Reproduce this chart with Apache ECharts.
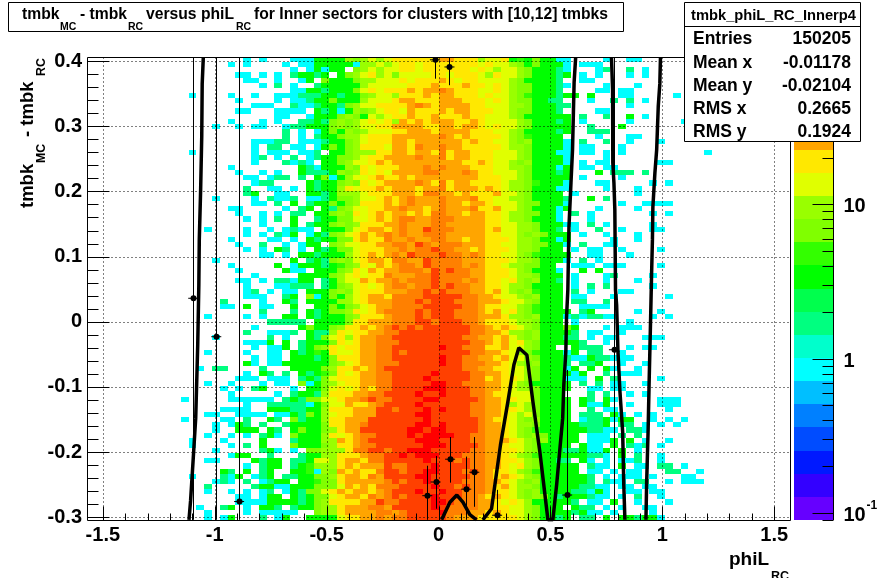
<!DOCTYPE html>
<html><head><meta charset="utf-8">
<style>html,body{margin:0;padding:0;background:#fff}#c{width:878px;height:578px}</style>
<script src="https://cdn.jsdelivr.net/npm/echarts@6/dist/echarts.min.js"></script>
</head><body><div id="c"></div>
<script>
// colour-level letters per cell: 6 cyan(1 count) .. j red; '.' = empty
const rowsLeft = [ // bins 8..45, top row first
"............ 6.6...666a aaadcdedef fffffg","..........6. 6....6.66a aaaa6ddede ffefff","............ ......6.6a 6aa.cdedee ffefff","...........6 6.6.6.8aa8 a.acdefdec eeeeff","............ 66..6..6a. caaacddeee fefffg","............ ..6.8.6..8 aaaaadeeee efffgf","............ ......66aa 8aaacefeff fgfggh",".....6....6. .6..666888 aa8aacdeed fffgfg","...........6 ....6.668a acaaadeeef ggfffg","............ .666..8668 aa8cdeefff fghgfg",
"...........6 6...6666.a 8a6adcdeff egfffg","............ ....66..6a aacdcaedef fgffgf","..........6. ..6.6..88a 8cdcdefefd gfgfgg","........6..6 .66..688aa acdcdeeffg gggffg","............ .....8.6.6 acadcdeeef fgggfg","............ .....8.6.8 aacddefffg gggggh","............ .66688.666 8aacdefffg gfgggg","............ .6.88.66.6 acacdfffeg gfhggh",".....6...... .6.666.668 .aacdddffg gfggfh","............ .68.6.8.68 aaccdeffgg gghggh",
"............ .6...8686. aacdeefgfg gggggg","..........6. .......a86 aaadcfefff ggghgh","...........6 ..6.6..a88 8adcdfefeg ggghhg","............ 66.688.8.a c6adeefgff gfgggg","............ .688....a8 aacdcfefgg gghgfh","............ 8..66.6.a8 aadfeffgfg ggfggh","............ 8a..66..aa 8adddefffg ggfhhg","........6... .6.8668.66 8accdeefgf ghgggh","............ .66.8.a.8a acacdfffgf ghgggh","..........66 .....6.8a. a8cdeeffgg hggfgh",
"...........6 ..6.6.88.a acdcfefgfg gfgfhh","............ 6.6.8.a..8 aacceefgfg hhgghh","............ ..6...a.8a acdcdfffgg hggghh",".......6.... 6..6.6866. aaacefggfg hggihh","............ 6.6.86a.6a 8cdefgfghg hgghhh","..........6. ...66.6.a8 aaccfgffhg ghgghh","...........6 ..8..6.6aa .cdeeffggh hgihgh","............ 6.6.a8.6.a 8accefffgg hghhih","............ ..66.6.aa8 aaadefgfgh gihhhi","........6... ......a.8a 8cdcefggfh hggihh",
"..........6. ....a.6aaa 8abcdfegfg hhgihh","...........6 .....a66.a aacdfegfgg hhhgih","............ .6.....aaa acdefeffhg gghhih","...........6 6.6.886aa. 8adeegfggh ghhhih","............ 6...66888. 8acdefefgh hghhih","............ 68.6.66.aa acdcefffgg ghhihi","............ 666..8a.d6 acadefggfh hhhiii",".........8.. ..6..a8.aa aaddefgggh hhihii",".........66. a.66..a..a acacdefggh hhhiii","............ ..8...8.a8 accdfefghh hhihii",
".......6.... 6.6..aa.a8 aaacdfffgh hhihii","............ ...88888.a aaacffgggh hhiihi","............ .6.....aca acdffgfghi hihiii","............ 8..6668.a8 8dfeffgghh iiiiii","........6... ...8.6..a8 cefdfgghhi iiiiii","............ 666a.a.8aa acfefgghhh iiiiii","............ .6.66a.8ac dfeffgghhi iiiiij",".......6.... 6..66.a8ab afeefgghhi hiiiii","............ .6.66.aaa8 acfffgghhi iiiiij","............ a6.66aaaaa acdefgghhh iiiiij",
"......6.88.. ..8...aaaa cdffgfghii iiiiii","............ 6.a8.8.a8a bcfefgghhi iiiiji","...........6 66.666.8a8 cefffgghhi iiijii",".......6..6. ..6.66.c6a cdeffgghhi iiiijj",".........6.6 .8a...6.aa cefefgfhhi iiijjj","..........6. ....6.8aa8 dfffgghhii iijiij","....6.....66 6666.8a8cc eefgghihhi iiijji","............ 6..888886a ceegffghii iijiii",".........666 6..aaa88aa dfffgggiih iiijij",".......66..6 666.66a8ca deffgggiii iijjii",
"....6....66. 8..a8.c8aa dffgggiiii iiijii","........6.6a 8.8..8aaaa cffgghiiii iijjij","........6..a aa.a8.acaa cdfggiiiii ijjijj",".......6..6. 6.8a6.caaa dfefghhiii ijijjj",".....6...6.. ..a...8aaa ddgfghiiii iijjji",".....6....6. 8.a...caaa cdffghhiii iiijjj","........6... ..8a6.6.cc dddfhhiihi ijjjii","..........6a a..8...8aa ddfffghhii jijjji",".......66... .a8aa.88ae edfggfhhii iiijii","............ 6.8aa.8abd ddfgfgggih hiiiji",
".........a8. a.8a..aab6 dcgfgffhii hiijji",".....6...86a .68a.88aac cdfggfhgii iijjii","........686. 8.68aa.aab ccfggggghi hiijii",".......8.... .8aa66aaac ccegfgfhhh iiiiji",".......6..6. 6.68.6a8cc efgfggfghi iijiij","...........6 6.6aa.a8ac cefggfhghi hiiiji","...........6 666aaaa8ac dffffggihh iiiijj","......6..8a. 6.aa8.8aac ddfggghhgi iiiiji",".......6.... 6.66666..c ddfgggghhg hiiiij",".......6.6a. ..8.6a..aa aaeffgghgh hiiiii"];
const rowsRight = [ // bins 46.., top row first
"gfff deefabacaa 66....6..6 6","ffff efeedcacaa a6.666....","fffe fedeedcaaa 86...68..8 .6","efff edfeedcaaa 8a.6.6...6 .6","feff eeeedcaaaa 8..66.....","ffgf fefedccaaa 86....6... 6","gfff eefedccaaa 8....66.66","gfff efeedcbaaa 8aa.a...66 .....6","ggff fefedccaa8 8...6..8.8 .6","gggf feeeddcaaa 88.......6",
"fggf ffeedccaaa 8....66...","ffgf feeedcaaaa aa.8..8..a .6","gffg feeeedcaaa 8a.6.....6 ......6","gfgg fefeedcaaa aa..8...a.","gggf ffeedcaaaa 8a..888...","gfgf fffedcbaaa a....6...6 6","ggfg ffeedcdaaa a6.8..8..6 ...6","ggff fffeddcaaa a6.66...6.","fggf ffeeedcaaa 66.66.6.6. .........6","fggf ffeeedcaaa a6....6...",
"ggff gfeedcdaaa a6.6.66... ...66","gggf ffeeddcaaa 6a.66.66..","gghg ffeeedcaaa 8a...a.888 .8","gggg fffeedcaaa aa.6....6.","fggf fffeddcbaa a6...66... ..6.6","fggg fgfeddcaaa 66....6... 6","gfgf ffgeedcaaa a.6....... 6","gggh ffeeddcaaa a8..a.8...","ggfg gfeeedccaa a6......6. .6666","gggh ffgeedcaaa 6a...6.... 6",
"ggfg gffeddccaa 6.8.6..... ..6.6","hggg gffeddcaaa 6...6.....","gggg gffeeddcaa a66.8.6... ..6","hggg gfgeeddcaa 8.6..8..6. ..66","gggg gffeedcdca aa.6..6... 6","ggfg gfffeddcaa 6a.....6.. 6","hhgg gffeeddcca a6.8..66..","hggf gfffeddcaa a.6.66..6. ...6","hhgh gffeedcbaa aa..66...6","hhgg gfffeddcaa a6.8.6....",
"hhgh gffeddccaa ..666.666. ...6","ihhg gfffedcaaa 6..a.a....","hhhg gfffeddcaa a.6...68.. ..6","hhgh gffefdcdaa 8.6...6... 6","ihhg gffeddcaaa a.6.8.8... ..6","hhhg gfgedcdbaa a.8.6...66","iihh gggfeedcdaa a.66...6.. ....6".replace("gggfeedcdaa","ggfeedcdaa"),"ihhh gggfeedcaa a.88..8...","iihh gffeedcbaa a..6666...","ihhh gfgefdcbaa aa.8a..... 6..6",
"ihhh gggfddcdaa a6868866.. ..6.6","iihh gfffeddcaa a.6......6","iiih hgfgfedcaa aca...6.66 6","iiih hggfddcdaa aa8.66..6.","iihh ggfgedcdaa a88.6.66.. .666","iiih hgfgefdcaa aaa8..6...","iihh hffgeedcaa ..a888...6 .66","iiih hggfedcbaa a6a.88..6.","iihh ggfgeedcaa a866a88666","iihh hggfedcdaa a8.88a..6. .6",
"iihh ggffeedcaa a6a.a.a6.. 6","iiih hggfeedcaa aa6a..8.66 6","iiih hfgffedcaa a666.a.8.. ...6","iihh hggfedcaaa aa.8.8.66. .6","iiih hggfeddcaa aa..66.66.","iiih hgffeeecaa a...8.8..6 .6","iiii hggffeecaa aa.a8.a6.. ...666","iiih hggfdedcaa aa.a66a..6 ...666","iiih hggffedcaa aa..8.66.. ....6","iiih hggfedecaa aa.888.a6. 6.6",
"iiii hgffedcdaa aa.688a6aa ..6.6.6","iiii hggfeddcaa aaa888a.88 .6.6.6","iiii hggfedcbaa aaaa8866.8 86","jiih hggfedcdca aaa.666.8. 8","iiih hgggfedcda aaa.666a.a .6..6","iiii hggfeedcaa aa.a66.a.8 68.6","iiih hggffedcaa a88a66a.a. 6","iihh hggfedcbaa aaaa886.a. 8..6","ihih hggffedcaa 88.a6.6.66 8..6","iiih hggfefdcaa aaa.866.a. 66.88.6",
"iihi hgffedcbaa aaa.66.6.6 6...88..6.","iiih hgfgfedcaa aaaa8.6.66 6.6...66","iihh hggfedcdaa aaaa8.866. 88..6.666","ihih hgfgeddcaa aaa8866.66 .66","iihh hgffedcdaa aa886a6..6 6.66","iihh gfgfedcdca 8aaa866.6. 8..6","ihhh ggfefedaaa aa8.66.a.. 6...6","hhhh ggffeedcaa a.a88.6.6. .66","hhhg gfgfeedcaa aa8a66.6.. ..6","hggg fffffedcaa 8a.88.a.aa 8aa6"];

const xRange = [-1.5708, 1.5708];
const yRange = [-0.3043, 0.4063];
const binCount = 90, firstLeftBin = 8, firstRightBin = 46;
const palette = ['#6600ff','#3300ff','#0019ff','#004cff','#0080ff','#00bfff','#00ffff','#00ffcc','#00ff80','#00ff4d','#00ff00','#33ff00','#80ff00','#99ff00','#e0ff00','#ffe800','#ffa500','#ff8000','#ff4000','#ff0000'];
const zRange = [0.09, 90];
const xMajor = [-1.5,-1,-0.5,0,0.5,1,1.5];
const yMajor = [-0.3,-0.2,-0.1,0,0.1,0.2,0.3,0.4];
const zMajor = [0.1,1,10];
const zMinor = [0.09,0.2,0.3,0.4,0.5,0.6,0.7,0.8,0.9,2,3,4,5,6,7,8,9,20,30,40,50,60,70,80,90];

const curveFarLeft = [[-1.115,-0.304],[-1.108,-0.275],[-1.097,-0.215],[-1.085,-0.148],[-1.076,-0.036],[-1.071,0.057],[-1.069,0.126],[-1.063,0.202],[-1.058,0.285],[-1.056,0.365],[-1.051,0.406]];
const curvePeakA = [[0.014,-0.304],[0.051,-0.277],[0.082,-0.266],[0.109,-0.277],[0.140,-0.296],[0.170,-0.304]];
const curvePeakB = [[0.198,-0.304],[0.237,-0.287],[0.277,-0.189],[0.310,-0.123],[0.337,-0.066],[0.359,-0.040],[0.395,-0.051],[0.422,-0.123],[0.453,-0.200],[0.489,-0.304],[0.511,-0.304],[0.528,-0.250],[0.555,-0.148],[0.560,-0.097],[0.569,-0.046],[0.572,0.006],[0.578,0.049],[0.583,0.146],[0.592,0.213],[0.599,0.264],[0.606,0.367],[0.613,0.406]];
const curveRightA = [[0.773,0.406],[0.778,0.356],[0.779,0.244],[0.784,0.213],[0.788,0.172],[0.791,0.049],[0.796,0.026],[0.802,-0.046],[0.811,-0.108],[0.823,-0.169],[0.828,-0.250],[0.833,-0.304]];
const curveRightB = [[0.992,0.406],[0.989,0.365],[0.982,0.330],[0.975,0.264],[0.967,0.228],[0.958,0.176],[0.956,0.126],[0.952,0.069],[0.948,0.006],[0.941,-0.097],[0.937,-0.163],[0.930,-0.250],[0.927,-0.304]];
// x, y, yLow, yHigh
const profilePoints = [[-1.096,0.036,-0.304,0.406],[-0.993,-0.023,-0.304,0.406],[-0.891,-0.276,-0.304,0.406],[0.784,-0.043,-0.304,0.406],[0.575,-0.266,-0.304,-0.074],[0.262,-0.297,-0.304,-0.258],[-0.050,-0.267,-0.304,-0.221],[-0.013,-0.246,-0.287,-0.206],[0.052,-0.211,-0.247,-0.177],[0.124,-0.257,-0.304,-0.207],[0.160,-0.231,-0.284,-0.177],[-0.016,0.402,0.373,0.406],[0.049,0.391,0.363,0.406]];
const statLabels = ['Entries','Mean x','Mean y','RMS x','RMS y'];
const statValues = ['150205','-0.01178','-0.02104','0.2665','0.1924'];

const binW = (xRange[1]-xRange[0])/binCount, binH = (yRange[1]-yRange[0])/binCount;
const cells = [];
function addCells(str, first, r){
  for(let i=0;i<str.length;i++){
    const ch=str[i]; if(ch==='.') continue;
    const level=parseInt(ch,20);
    cells.push([xRange[0]+(first+i+0.5)*binW, yRange[1]-(r+0.5)*binH, level]);
  }
}
rowsLeft.forEach((s,r)=>addCells(s.replace(/ /g,'').padStart(38,'.').slice(-38),firstLeftBin,r));
rowsRight.forEach((s,r)=>addCells(s.replace(/ /g,''),firstRightBin,r));
const levelEdges = palette.map((c,i)=>[zRange[0]*Math.pow(zRange[1]/zRange[0],i/20), zRange[0]*Math.pow(zRange[1]/zRange[0],(i+1)/20), i]);

const FONT='"Liberation Sans", Arial, sans-serif';
const ln=(x1,y1,x2,y2,extra)=>({type:'line',shape:{x1,y1,x2,y2},style:Object.assign({stroke:'#000',lineWidth:1},extra||{})});
const snap=v=>Math.round(v)+0.5;

const chart=echarts.init(document.getElementById('c'),null,{renderer:'canvas'});
function txt(x,y,s,size,opts){return Object.assign({type:'text',x,y,z:100,style:{text:s,font:'bold '+size+'px '+FONT,fill:'#000',textAlign:(opts&&opts.align)||'left',textVerticalAlign:'middle'}},opts&&opts.rotation?{rotation:opts.rotation}:{});}
const graphics=[
 {type:'rect',z:99,shape:{x:8.5,y:2.5,width:615,height:29},style:{fill:'#fff',stroke:'#000',lineWidth:1}},
 txt(22,14.5,'tmbk',15.7),txt(60,27,'MC',10.5),txt(80,14.5,'- tmbk',15.7),txt(128,27,'RC',10.5),txt(146,14.5,'versus phiL',15.7),txt(236,27,'RC',10.5),txt(254,14.5,'for Inner sectors for clusters with [10,12] tmbks',15.7),
 {type:'rect',z:99,shape:{x:684.5,y:2.5,width:176,height:139},style:{fill:'#fff',stroke:'#000',lineWidth:1}},
 {type:'line',z:100,shape:{x1:684.5,y1:26.5,x2:860.5,y2:26.5},style:{stroke:'#000',lineWidth:1}},
 txt(773.5,15.5,'tmbk_phiL_RC_Innerp4',14.7,{align:'center'}),
 txt(729,560,'phiL',19),txt(771,577,'RC',12.5),
 txt(28,208,'tmbk',18.5,{rotation:Math.PI/2}),txt(42,163,'MC',12.3,{rotation:Math.PI/2}),txt(28,137,'- tmbk',18.5,{rotation:Math.PI/2}),txt(42,76,'RC',12.3,{rotation:Math.PI/2})
];
[39.5,63,86,109,132.5].forEach((y,i)=>{graphics.push(txt(693,y,statLabels[i],17.5));graphics.push(txt(851,y,statValues[i],17.5,{align:'right'}));});

const minorX=[];for(let i=-15;i<=15;i++){if(i%5!==0)minorX.push(i/10);}
const minorY=[];for(let i=-15;i<=20;i++){if(i%5!==0)minorY.push(i/50);}

chart.setOption({
 animation:false,backgroundColor:'#fff',
 grid:[{left:87,right:88,top:57,bottom:58,containLabel:false},{left:794,width:40,top:57,bottom:58}],
 xAxis:[
  {type:'value',gridIndex:0,min:xRange[0],max:xRange[1],axisLine:{show:false},axisTick:{show:false},splitLine:{show:false},
   axisLabel:{customValues:xMajor,color:'#000',fontFamily:'Liberation Sans',fontWeight:'bold',fontSize:20,margin:5}},
  {type:'value',gridIndex:1,min:0,max:1,show:false}],
 yAxis:[
  {type:'value',gridIndex:0,min:yRange[0],max:yRange[1],axisLine:{show:false},axisTick:{show:false},splitLine:{show:false},
   axisLabel:{customValues:yMajor,color:'#000',fontFamily:'Liberation Sans',fontWeight:'bold',fontSize:20,margin:5}},
  {type:'log',gridIndex:1,logBase:10,min:zRange[0],max:zRange[1],show:false}],
 graphic:{elements:graphics},
 series:[
  {type:'custom',xAxisIndex:0,yAxisIndex:0,z:2,silent:true,progressive:0,data:cells,
   renderItem(p,api){const a=api.coord([api.value(0)-binW/2,api.value(1)+binH/2]),b=api.coord([api.value(0)+binW/2,api.value(1)-binH/2]);
    const x=Math.round(a[0]),y=Math.round(a[1]);
    return{type:'rect',shape:{x,y,width:Math.round(b[0])-x,height:Math.round(b[1])-y},style:{fill:palette[api.value(2)]}};}},
  {type:'custom',xAxisIndex:1,yAxisIndex:1,z:2,silent:true,data:levelEdges,
   renderItem(p,api){const a=api.coord([0,api.value(1)]),b=api.coord([1,api.value(0)]);
    return{type:'rect',shape:{x:a[0],y:Math.round(a[1]),width:b[0]-a[0],height:Math.round(b[1])-Math.round(a[1])},style:{fill:palette[api.value(2)]}};}},
  ...[curveFarLeft,curvePeakA,curvePeakB,curveRightA,curveRightB].map(c=>({type:'line',xAxisIndex:0,yAxisIndex:0,z:4,data:c,showSymbol:false,silent:true,clip:true,lineStyle:{color:'#000',width:3.5},emphasis:{disabled:true}})),
  {type:'custom',xAxisIndex:0,yAxisIndex:0,z:5,silent:true,data:profilePoints,clip:true,
   renderItem(p,api){const c=api.coord([api.value(0),api.value(1)]),lo=api.coord([api.value(0),api.value(2)]),hi=api.coord([api.value(0),api.value(3)]);
    const x=snap(c[0]);
    return{type:'group',children:[ln(x,lo[1],x,hi[1]),ln(c[0]-5,c[1],c[0]+5,c[1]),{type:'circle',shape:{cx:x,cy:c[1],r:3},style:{fill:'#000'}}]};}},
  {type:'custom',xAxisIndex:0,yAxisIndex:0,z:6,silent:true,clip:false,data:[[0,0]],
   renderItem(p,api){
    const L=api.coord([xRange[0],0])[0],R=api.coord([xRange[1],0])[0],T=api.coord([0,yRange[1]])[1],B=api.coord([0,yRange[0]])[1];
    const l=snap(L),r=snap(R),t=snap(T),b=snap(B);const dash={lineDash:[1,3]};const ch=[];
    xMajor.forEach(v=>{const x=snap(api.coord([v,0])[0]);ch.push(ln(x,t,x,b,dash));ch.push(ln(x,b,x,b-14));});
    yMajor.forEach(v=>{const y=snap(api.coord([0,v])[1]);ch.push(ln(l,y,r,y,dash));ch.push(ln(l,y,l+22,y));});
    minorX.forEach(v=>{const x=snap(api.coord([v,0])[0]);ch.push(ln(x,b,x,b-7));});
    minorY.forEach(v=>{const y=snap(api.coord([0,v])[1]);ch.push(ln(l,y,l+11,y));});
    ch.push({type:'rect',shape:{x:l,y:t,width:r-l,height:b-t},style:{fill:'none',stroke:'#000',lineWidth:1}});
    return{type:'group',children:ch};}},
  {type:'custom',xAxisIndex:1,yAxisIndex:1,z:6,silent:true,clip:false,data:[[0,1]],
   renderItem(p,api){
    const X=snap(api.coord([1,1])[0])-1;const ch=[];
    const top=api.coord([1,zRange[1]])[1],bot=api.coord([1,zRange[0]])[1];
    ch.push(ln(X,top,X,bot));
    zMinor.forEach(v=>{const y=snap(api.coord([1,v])[1]);ch.push(ln(X-11,y,X,y));});
    zMajor.forEach(v=>{const y=snap(api.coord([1,v])[1]);ch.push(ln(X-21,y,X,y));
      const f='bold 20px '+FONT;
      if(v===0.1){ch.push({type:'text',style:{x:X+10,y:y+2,text:'10',font:f,fill:'#000',textVerticalAlign:'middle'}});
        ch.push({type:'text',style:{x:X+33,y:y-8,text:'-1',font:'bold 12px '+FONT,fill:'#000',textVerticalAlign:'middle'}});}
      else ch.push({type:'text',style:{x:X+10,y:y+1.5,text:String(v),font:f,fill:'#000',textVerticalAlign:'middle'}});
    });
    return{type:'group',children:ch};}}
 ]
});
</script></body></html>
